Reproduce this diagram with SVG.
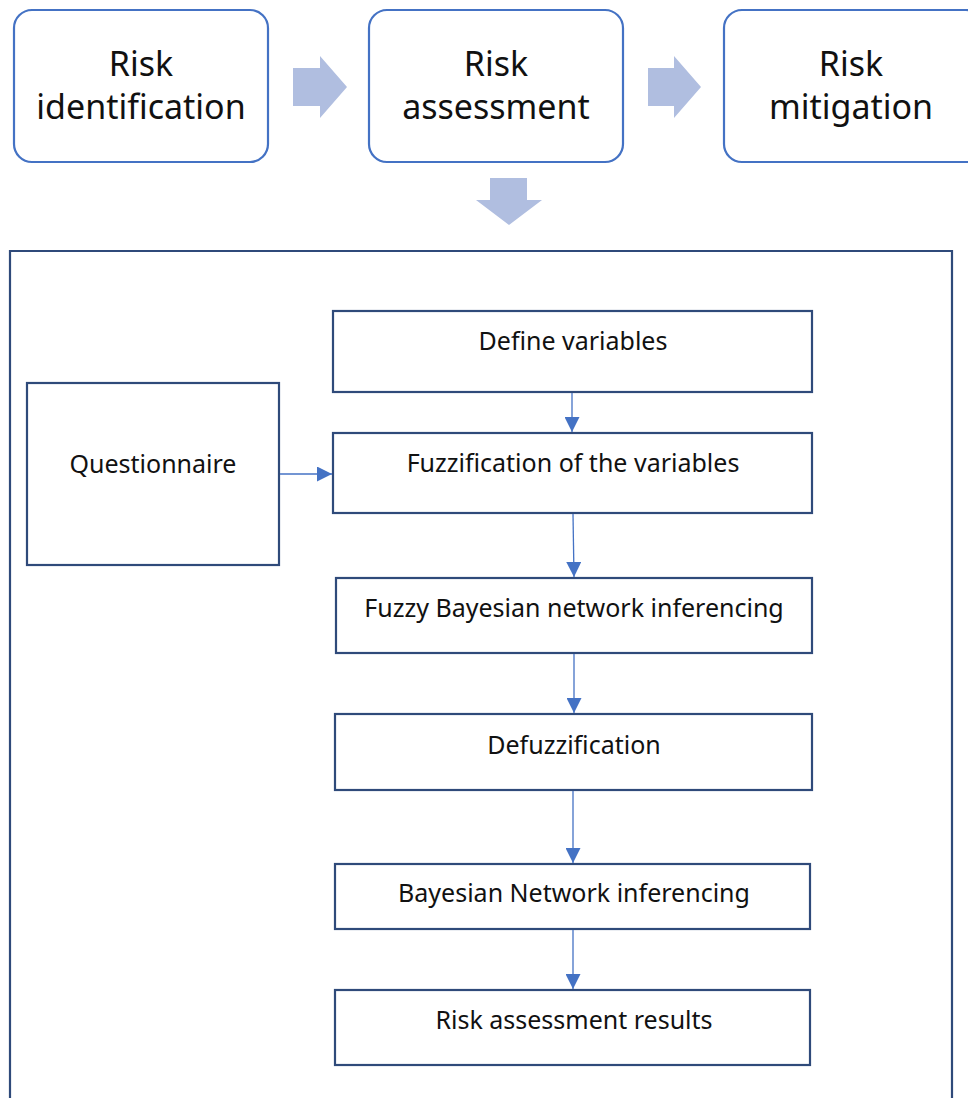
<svg xmlns="http://www.w3.org/2000/svg" width="968" height="1098" viewBox="0 0 968 1098">
<style>
.top{fill:#fff;stroke:#4472C4;stroke-width:2.2}
.box{fill:#fff;stroke:#2F4A7A;stroke-width:2.2}
.big{font-family:"Noto Sans","Open Sans",sans-serif;font-size:34px;fill:#111;text-anchor:middle}
.lbl{font-family:"Noto Sans","Open Sans",sans-serif;font-size:25px;fill:#111;text-anchor:middle}
.blk{fill:#B0BEE0}
.con{stroke:#4472C4;stroke-width:1.3;fill:none;marker-end:url(#ah)}
</style>
<defs>
<marker id="ah" viewBox="0 0 10 10" refX="10" refY="5" markerWidth="15" markerHeight="15" markerUnits="userSpaceOnUse" orient="auto">
<path d="M0,0 L10,5 L0,10 Z" fill="#4472C4"/>
</marker>
</defs>
<rect width="968" height="1098" fill="#fff"/>
<g id="outer"><path d="M10,1098 V251 H952 V1098" fill="none" stroke="#2F4A7A" stroke-width="2.2"/></g>
<g id="risk-identification"><rect class="top" x="14" y="10" width="254" height="152" rx="18"/>
<text class="big" x="141" y="76">Risk</text><text class="big" x="141" y="119">identification</text></g>
<g id="risk-assessment"><rect class="top" x="369" y="10" width="254" height="152" rx="18"/>
<text class="big" x="496" y="76">Risk</text><text class="big" x="496" y="119">assessment</text></g>
<g id="risk-mitigation"><rect class="top" x="724" y="10" width="260" height="152" rx="18"/>
<text class="big" x="851" y="76">Risk</text><text class="big" x="851" y="119">mitigation</text></g>
<g id="block-arrows">
<path class="blk" d="M293,68 H320 V56 L347,87 L320,118 V106 H293 Z"/>
<path class="blk" d="M648,68 H674 V56 L701,87 L674,118 V106 H648 Z"/>
<path class="blk" d="M490,178 H527 V200 H542 L509,225 L476,200 H490 Z"/>
</g>
<g id="define-variables"><rect class="box" x="333" y="311" width="479" height="81"/><text class="lbl" x="573" y="350">Define variables</text></g>
<g id="questionnaire"><rect class="box" x="27" y="383" width="252" height="182"/><text class="lbl" x="153" y="473">Questionnaire</text></g>
<g id="fuzzification"><rect class="box" x="333" y="433" width="479" height="80"/><text class="lbl" x="573" y="472">Fuzzification of the variables</text></g>
<g id="fuzzy-bn"><rect class="box" x="336" y="578" width="476" height="75"/><text class="lbl" x="574" y="617">Fuzzy Bayesian network inferencing</text></g>
<g id="defuzzification"><rect class="box" x="335" y="714" width="477" height="76"/><text class="lbl" x="574" y="754">Defuzzification</text></g>
<g id="bn-inferencing"><rect class="box" x="335" y="864" width="475" height="65"/><text class="lbl" x="574" y="902">Bayesian Network inferencing</text></g>
<g id="results"><rect class="box" x="335" y="990" width="475" height="75"/><text class="lbl" x="574" y="1029">Risk assessment results</text></g>
<g id="connectors">
<line class="con" x1="572" y1="393" x2="572" y2="432"/>
<line class="con" x1="280" y1="474" x2="332" y2="474"/>
<line class="con" x1="573" y1="514" x2="574" y2="577"/>
<line class="con" x1="574" y1="654" x2="574" y2="713"/>
<line class="con" x1="573" y1="791" x2="573" y2="863"/>
<line class="con" x1="573" y1="930" x2="573" y2="989"/>
</g>
</svg>
